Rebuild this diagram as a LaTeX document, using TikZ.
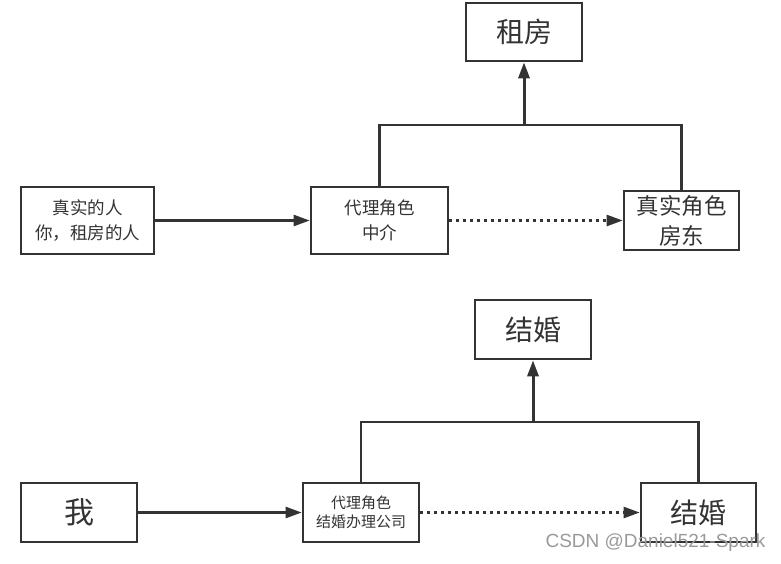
\documentclass[tikz,border=0pt]{standalone}
\usepackage{fontspec}
\usepackage{tikz}
\usetikzlibrary{arrows.meta}
\newfontfamily\cjk{Noto Sans CJK SC}
\newfontfamily\wmfont{Liberation Sans}
\definecolor{ink}{RGB}{51,51,51}

\begin{document}
\begin{tikzpicture}[x=1pt,y=1pt,yscale=-1,
  rolebox/.style={draw=ink,line width=2.6pt,text=ink,inner sep=0pt,align=center,font=\cjk},
  link/.style={draw=ink,line width=2.4pt},
  dots/.style={dash pattern=on 2.6pt off 4.4pt},
  tip/.style={-{Triangle[length=16pt,width=11pt]}}]
\useasboundingbox (0,0) rectangle (781,563);

%Shape: Rectangle (upper half)
\node [rolebox,minimum width=116,minimum height=58,font=\cjk\fontsize{28}{30}\selectfont] (rent) at (524,32) {租房};
\node [rolebox,minimum width=133,minimum height=67,font=\cjk\fontsize{17.5}{25}\selectfont] (person) at (87.5,220.5) {真实的人\\你，租房的人};
\node [rolebox,minimum width=137,minimum height=67,font=\cjk\fontsize{17.5}{25}\selectfont] (agent) at (379.5,220.5) {代理角色\\中介};
\node [rolebox,minimum width=115,minimum height=59,font=\cjk\fontsize{22.5}{30}\selectfont] (landlord) at (681.5,220.5) {真实角色\\房东};
\coordinate (rentjoin) at (524,125);

%Straight Lines (upper half)
\draw [link,tip] (person) -- (agent);
\draw [link,tip,dots] (agent) -- (landlord);
\draw [link] (agent.north) |- (rentjoin) -| (landlord.north);
\draw [link,tip,line width=3pt] (rentjoin) -- (rent.south);

%Shape: Rectangle (lower half)
\node [rolebox,minimum width=116,minimum height=59,font=\cjk\fontsize{28}{30}\selectfont] (marry) at (533,329.5) {结婚};
\node [rolebox,minimum width=116,minimum height=59,font=\cjk\fontsize{30}{32}\selectfont] (me) at (79,512.5) {我};
\node [rolebox,minimum width=116,minimum height=59,font=\cjk\fontsize{15}{19.5}\selectfont] (firm) at (361,512.5) {代理角色\\结婚办理公司};
\node [rolebox,minimum width=115,minimum height=59,font=\cjk\fontsize{28}{30}\selectfont] (couple) at (698.5,512.5) {结婚};
\coordinate (marryjoin) at (533,422);

%Straight Lines (lower half)
\draw [link,tip] (me) -- (firm);
\draw [link,tip,dots] (firm) -- (couple);
\draw [link] (firm.north) |- (marryjoin) -| (couple.north);
\draw [link,tip,line width=3pt] (marryjoin) -- (marry.south);

%Watermark
\node [text=black!40,font=\wmfont\fontsize{19}{21}\selectfont,inner sep=0pt] (wmark) at (655.5,543) {CSDN @Daniel521-Spark};

\end{tikzpicture}
\end{document}
